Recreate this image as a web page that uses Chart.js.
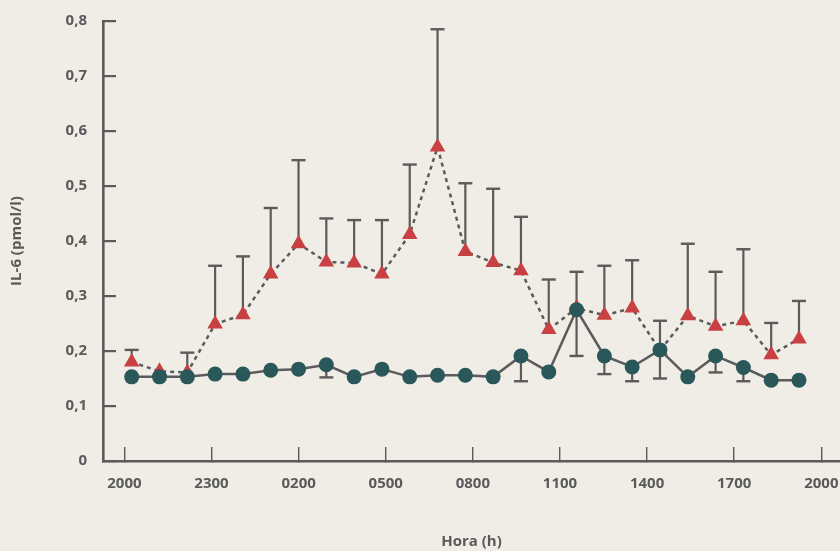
<!DOCTYPE html>
<html>
<head>
<meta charset="utf-8">
<script src="https://cdn.jsdelivr.net/npm/chart.js@4.4.1/dist/chart.umd.min.js"></script>
<style>
  html, body { margin: 0; padding: 0; background: #f0ede6; }
  #wrap { width: 840px; height: 551px; }
</style>
</head>
<body>
<div id="wrap"><canvas id="c" width="840" height="551"></canvas></div>
<script>
// ---- data ----
const hourLabels = ['2000', '2300', '0200', '0500', '0800', '1100', '1400', '1700', '2000'];
const hourTickValues = [0, 3, 6, 9, 12, 15, 18, 21, 24];
const yTickLabels = ['0', '0,1', '0,2', '0,3', '0,4', '0,5', '0,6', '0,7', '0,8'];

// red triangles (dashed line), upper error bars
const triValues = [0.180, 0.163, 0.161, 0.249, 0.266, 0.340, 0.395, 0.362, 0.360, 0.340,
                   0.412, 0.571, 0.381, 0.361, 0.346, 0.239, 0.278, 0.265, 0.278, 0.201,
                   0.264, 0.245, 0.255, 0.193, 0.222];
const triErr    = [0.022, 0, 0.036, 0.106, 0.106, 0.120, 0.152, 0.079, 0.078, 0.098,
                   0.127, 0.214, 0.124, 0.134, 0.098, 0.091, 0.066, 0.090, 0.087, 0.054,
                   0.131, 0.099, 0.130, 0.058, 0.069];

// dark teal circles (solid line), lower error bars
const circValues = [0.153, 0.153, 0.153, 0.158, 0.158, 0.165, 0.167, 0.175, 0.153, 0.167,
                    0.153, 0.156, 0.156, 0.153, 0.191, 0.162, 0.275, 0.191, 0.171, 0.202,
                    0.153, 0.191, 0.170, 0.147, 0.147];
const circErr    = [0, 0, 0, 0, 0, 0, 0, 0.023, 0, 0,
                    0, 0, 0, 0, 0.046, 0, 0.084, 0.033, 0.026, 0.052,
                    0, 0.030, 0.025, 0, 0];

// ---- styles ----
const GREY = '#5b5b5b';
const RED = '#c94043';
const TEAL = '#2a5759';

const pts = arr => arr.map((v, i) => ({ x: i, y: v }));
function errData(values, errs, dir) {
  const out = [];
  values.forEach((v, i) => {
    if (errs[i] > 0) {
      out.push({ x: i, y: v });
      out.push({ x: i, y: v + dir * errs[i] });
      out.push({ x: i, y: null });
    }
  });
  return out;
}
const errDataset = (data, order) => ({
  type: 'line',
  data: data,
  xAxisID: 'xi',
  yAxisID: 'y',
  borderColor: GREY,
  borderWidth: 2.2,
  spanGaps: false,
  pointStyle: 'line',
  pointRadius: ctx => (ctx.dataIndex % 3 === 1 ? 7 : 0),
  pointBorderWidth: 2.4,
  pointBorderColor: GREY,
  pointBackgroundColor: GREY,
  order: order
});

function noPad(s) { s.paddingTop = 0; s.paddingBottom = 0; s.paddingLeft = 0; s.paddingRight = 0; }

Chart.defaults.font.family = "'Open Sans', sans-serif";
Chart.defaults.font.weight = 'bold';
Chart.defaults.font.size = 15;
Chart.defaults.color = '#5a5a5a';

new Chart(document.getElementById('c'), {
  type: 'line',
  data: {
    datasets: [
      {
        data: pts(circValues),
        xAxisID: 'xi', yAxisID: 'y',
        borderColor: GREY, borderWidth: 2.5,
        pointStyle: 'circle', pointRadius: 7.5,
        pointBackgroundColor: TEAL, pointBorderColor: TEAL, pointBorderWidth: 0,
        order: 0
      },
      {
        data: pts(triValues),
        xAxisID: 'xi', yAxisID: 'y',
        borderColor: GREY, borderWidth: 2.5, borderDash: [4, 4],
        pointStyle: 'triangle', pointRadius: 9,
        pointBackgroundColor: RED, pointBorderColor: RED, pointBorderWidth: 0,
        order: 1
      },
      errDataset(errData(circValues, circErr, -1), 2),
      errDataset(errData(triValues, triErr, 1), 3)
    ]
  },
  options: {
    responsive: false,
    animation: false,
    events: [],
    layout: { autoPadding: false, padding: { top: 21, left: 0, right: 0, bottom: 0 } },
    plugins: { legend: { display: false }, tooltip: { enabled: false } },
    scales: {
      xi: {
        type: 'linear', position: 'bottom', display: false,
        min: -1.032, max: 25.475
      },
      x: {
        type: 'linear', position: 'bottom',
        min: -0.737, max: 24.644,
        afterBuildTicks: s => { s.ticks = hourTickValues.map(v => ({ value: v })); },
        afterFit: s => { s.height = 90; noPad(s); },
        ticks: {
          callback: (v, i) => hourLabels[i],
          padding: 28,
          maxRotation: 0,
          autoSkip: false,
          color: '#5a5a5a'
        },
        grid: { drawOnChartArea: false, drawTicks: true, tickLength: -14, color: GREY, lineWidth: 1.4 },
        border: { display: true, color: GREY, width: 2.6 },
        title: {
          display: true, text: 'Hora (h)', color: '#5a5a5a',
          font: { size: 15, weight: 'bold' }, padding: { top: 0, bottom: 0 }
        }
      },
      y: {
        type: 'linear', min: 0, max: 0.8,
        afterBuildTicks: s => { s.ticks = yTickLabels.map((t, i) => ({ value: i / 10 })); },
        afterFit: s => { s.width = 103; noPad(s); },
        ticks: {
          callback: (v, i) => yTickLabels[i],
          padding: 29,
          color: '#5a5a5a'
        },
        grid: { drawOnChartArea: false, drawTicks: true, tickLength: -13, color: GREY, lineWidth: 2.2 },
        border: { display: true, color: GREY, width: 2.6 },
        title: {
          display: true, text: 'IL-6 (pmol/l)', color: '#5a5a5a',
          font: { size: 15, weight: 'bold' }, padding: { top: 8, bottom: 0 }
        }
      }
    }
  }
});
</script>
</body>
</html>
